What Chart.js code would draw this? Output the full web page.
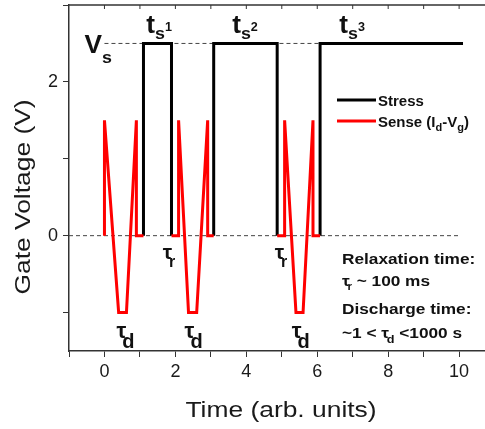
<!DOCTYPE html>
<html>
<head>
<meta charset="utf-8">
<script src="https://cdn.jsdelivr.net/npm/chart.js@4.4.0/dist/chart.umd.min.js"></script>
<style>
html,body{margin:0;padding:0;background:#fff;}
#wrap{width:485px;height:429px;}
</style>
</head>
<body>
<div id="wrap"><canvas id="myChart"></canvas></div>
<script>
// stress pulses (black), null y = gap between pulses
const stressX = [1.1, 1.1, 1.89, 1.89, 2.5, 3.08, 3.08, 4.87, 4.87, 5.5, 6.08, 6.08, 10.11];
const stressY = [0, 2.5, 2.5, 0, null, 0, 2.5, 2.5, 0, null, 0, 2.5, 2.5];
// sense sweeps (red)
const senseX = [0, 0, 0.4, 0.62, 0.9, 0.9, 1.1, 1.5,
                1.89, 2.09, 2.09, 2.37, 2.6, 2.91, 2.91, 3.08, 4.0,
                4.87, 5.08, 5.08, 5.4, 5.6, 5.88, 5.88, 6.08];
const senseY = [0, 1.5, -1, -1, 1.5, 0, 0, null,
                0, 0, 1.5, -1, -1, 1.5, 0, 0, null,
                0, 0, 1.5, -1, -1, 1.5, 0, 0];
// dashed guide lines
const vsLineX = [0, 6.08];
const vsLineY = [2.5, 2.5];
const zeroLineX = [-1, 10];
const zeroLineY = [0, 0];
const xTickLabels = [0, 2, 4, 6, 8, 10];
const yTickLabels = [0, 2];

const pts = (xs, ys) => xs.map((x, i) => ({x: x, y: ys[i]}));
const FONT = "'Liberation Sans', Arial, sans-serif";

// draw text pieces one after another (sub/superscripts), optionally stretched horizontally
function rich(ctx, x, y, parts, stretch) {
  ctx.save();
  ctx.translate(x, y);
  ctx.scale(stretch || 1, 1);
  let cx = 0;
  parts.forEach(p => {
    ctx.font = 'bold ' + p.s + 'px ' + FONT;
    cx += (p.dx || 0);
    ctx.fillText(p.t, cx, p.dy || 0);
    cx += ctx.measureText(p.t).width;
  });
  ctx.restore();
}

const extras = {
  id: 'extras',
  afterDraw(chart) {
    const ctx = chart.ctx;
    const xs = chart.scales.x, ys = chart.scales.y;
    const a = chart.chartArea;
    const X = v => xs.getPixelForValue(v), Y = v => ys.getPixelForValue(v);
    ctx.save();
    // top frame line with inward ticks
    ctx.strokeStyle = '#333';
    ctx.lineWidth = 1.5;
    ctx.beginPath();
    ctx.moveTo(a.left, a.top);
    ctx.lineTo(a.right, a.top);
    ctx.stroke();
    ctx.lineWidth = 1;
    for (let v = 0; v <= 10; v++) {
      ctx.beginPath();
      ctx.moveTo(X(v), a.top);
      ctx.lineTo(X(v), a.top + 4);
      ctx.stroke();
    }
    ctx.fillStyle = '#111';
    ctx.textBaseline = 'alphabetic';
    ctx.textAlign = 'left';
    // Vs and t_s labels
    rich(ctx, X(-0.56), Y(2.38), [{t: 'V', s: 25}, {t: 's', s: 17, dy: 10}], 1.05);
    rich(ctx, X(1.18), Y(2.64), [{t: 't', s: 25}, {t: 's', s: 17, dy: 6}, {t: '1', s: 12, dy: -2}], 1.05);
    rich(ctx, X(3.6), Y(2.64), [{t: 't', s: 25}, {t: 's', s: 17, dy: 6}, {t: '2', s: 12, dy: -2}], 1.05);
    rich(ctx, X(6.62), Y(2.64), [{t: 't', s: 25}, {t: 's', s: 17, dy: 6}, {t: '3', s: 12, dy: -2}], 1.05);
    // tau_r and tau_d
    [1.64, 4.8].forEach(v => rich(ctx, X(v), Y(-0.3), [{t: '\u03c4', s: 21}, {t: 'r', s: 16, dx: -3, dy: 8}], 1));
    [0.34, 2.26, 5.28].forEach(v => rich(ctx, X(v), Y(-1.33), [{t: '\u03c4', s: 22}, {t: 'd', s: 20, dx: -4, dy: 10}], 1));
    // legend
    ctx.lineWidth = 3;
    ctx.strokeStyle = '#000';
    ctx.beginPath(); ctx.moveTo(337, 100); ctx.lineTo(376, 100); ctx.stroke();
    ctx.strokeStyle = '#ff0000';
    ctx.beginPath(); ctx.moveTo(337, 121); ctx.lineTo(376, 121); ctx.stroke();
    rich(ctx, 378, 106, [{t: 'Stress', s: 15}], 1);
    rich(ctx, 378, 127, [{t: 'Sense (I', s: 15}, {t: 'd', s: 11, dy: 4}, {t: '-V', s: 15}, {t: 'g', s: 11, dy: 4}, {t: ')', s: 15}], 1);
    // notes
    rich(ctx, 342, 264, [{t: 'Relaxation time:', s: 15}], 1.15);
    rich(ctx, 342, 286, [{t: '\u03c4', s: 15}, {t: 'r', s: 10, dx: -2, dy: 4}, {t: ' ~ 100 ms', s: 15}], 1.15);
    rich(ctx, 342, 314, [{t: 'Discharge time:', s: 15}], 1.15);
    rich(ctx, 342, 338, [{t: '~1 < ', s: 15}, {t: '\u03c4', s: 15}, {t: 'd', s: 11, dx: -2, dy: 5}, {t: ' <1000 s', s: 15}], 1.15);
    // axis titles
    ctx.font = '22px ' + FONT;
    ctx.fillStyle = '#1a1a1a';
    ctx.textAlign = 'center';
    ctx.save();
    ctx.translate((a.left + a.right) / 2 + 4, 417);
    ctx.scale(1.2, 1);
    ctx.fillText('Time (arb. units)', 0, 0);
    ctx.restore();
    ctx.save();
    ctx.translate(30, (a.top + a.bottom) / 2 + 19);
    ctx.rotate(-Math.PI / 2);
    ctx.scale(1.2, 1);
    ctx.fillText('Gate Voltage (V)', 0, 0);
    ctx.restore();
    ctx.restore();
  }
};

const ctx = document.getElementById('myChart');
new Chart(ctx, {
  type: 'line',
  data: {
    datasets: [
      {label: 'Sense (Id-Vg)', data: pts(senseX, senseY), borderColor: '#ff0000', borderWidth: 3, order: 1},
      {label: 'Stress', data: pts(stressX, stressY), borderColor: '#000000', borderWidth: 3, order: 2},
      {label: 'vs', data: pts(vsLineX, vsLineY), borderColor: '#444', borderWidth: 1, borderDash: [4, 3], order: 3},
      {label: 'zero', data: pts(zeroLineX, zeroLineY), borderColor: '#444', borderWidth: 1, borderDash: [4, 3], order: 3}
    ]
  },
  options: {
    responsive: true,
    maintainAspectRatio: false,
    animation: false,
    devicePixelRatio: 1,
    spanGaps: false,
    layout: {padding: {top: 5, left: 0, right: 0, bottom: 0}},
    elements: {
      point: {radius: 0},
      line: {tension: 0, fill: false, borderJoinStyle: 'miter', borderCapStyle: 'butt'}
    },
    plugins: {legend: {display: false}, tooltip: {enabled: false}},
    scales: {
      x: {
        type: 'linear',
        min: -1,
        max: 10.73,
        border: {display: true, color: '#333', width: 1.5},
        grid: {drawOnChartArea: false, tickLength: 6, color: '#333', lineWidth: 1},
        ticks: {
          stepSize: 1, includeBounds: false, autoSkip: false, maxRotation: 0, padding: 4,
          color: '#1a1a1a', font: {family: FONT, size: 18},
          callback: v => xTickLabels.includes(v) ? String(v) : ''
        },
        afterFit: s => { s.height = 78; s.paddingLeft = 0; s.paddingRight = 0; }
      },
      y: {
        type: 'linear',
        min: -1.5,
        max: 3,
        border: {display: true, color: '#333', width: 1.5},
        grid: {drawOnChartArea: false, tickLength: 6, color: '#333', lineWidth: 1},
        ticks: {
          stepSize: 1, includeBounds: false, autoSkip: false, padding: 5,
          color: '#1a1a1a', font: {family: FONT, size: 18},
          callback: v => yTickLabels.includes(v) ? String(v) : ''
        },
        afterFit: s => { s.width = 69; s.paddingTop = 0; s.paddingBottom = 0; }
      }
    }
  },
  plugins: [extras]
});
</script>
</body>
</html>
